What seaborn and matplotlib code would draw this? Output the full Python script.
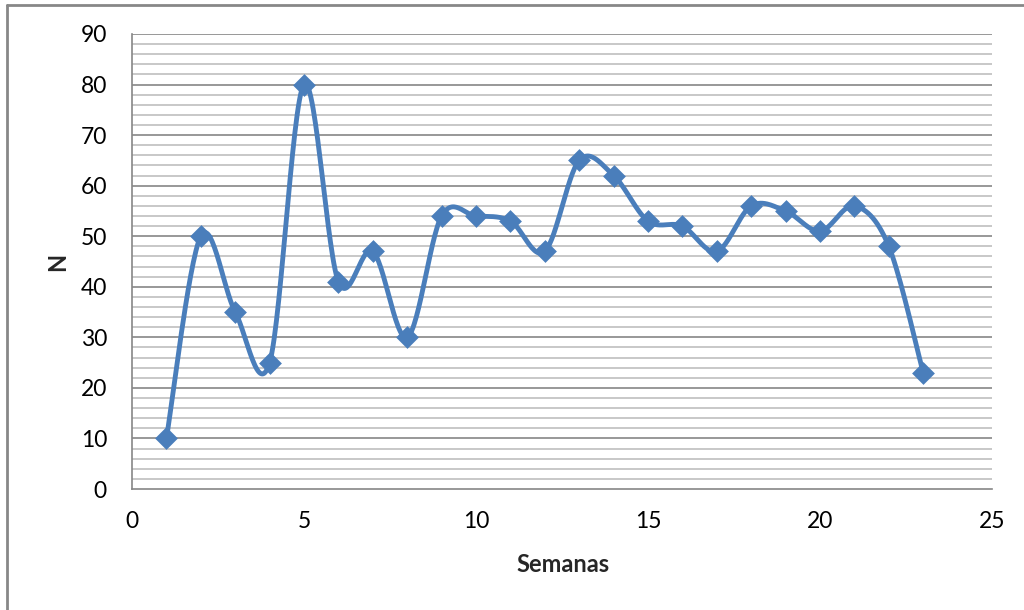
import numpy as np
import matplotlib
matplotlib.use("Agg")
import matplotlib.pyplot as plt
import seaborn as sns
import pandas as pd

# Weekly counts
semanas = list(range(1, 24))
valores = [10, 50, 35, 25, 80, 41, 47, 30, 54, 54, 53, 47, 65, 62, 53, 52, 47, 56, 55, 51, 56, 48, 23]

x_ticks = [0, 5, 10, 15, 20, 25]
y_ticks = [0, 10, 20, 30, 40, 50, 60, 70, 80, 90]

LINE_COLOR = "#4A7EBB"
MAJOR_GRID = "#868686"
MINOR_GRID = "#BFBFBF"

sns.set_theme(style="white")
plt.rcParams["font.family"] = ["Lato", "DejaVu Sans"]

df = pd.DataFrame({"Semanas": semanas, "N": valores})


def smooth_curve(xs, ys, steps=30):
    """Catmull-Rom style Bezier smoothing through every point."""
    xs = np.asarray(xs, float)
    ys = np.asarray(ys, float)
    n = len(xs)
    px, py = [], []
    for i in range(n - 1):
        x0, y0 = (xs[i - 1], ys[i - 1]) if i > 0 else (xs[i], ys[i])
        x1, y1 = xs[i], ys[i]
        x2, y2 = xs[i + 1], ys[i + 1]
        x3, y3 = (xs[i + 2], ys[i + 2]) if i + 2 < n else (x2, y2)
        c1x, c1y = x1 + (x2 - x0) / 6, y1 + (y2 - y0) / 6
        c2x, c2y = x2 - (x3 - x1) / 6, y2 - (y3 - y1) / 6
        t = np.linspace(0, 1, steps, endpoint=(i == n - 2))
        b0 = (1 - t) ** 3
        b1 = 3 * (1 - t) ** 2 * t
        b2 = 3 * (1 - t) * t ** 2
        b3 = t ** 3
        px.append(b0 * x1 + b1 * c1x + b2 * c2x + b3 * x2)
        py.append(b0 * y1 + b1 * c1y + b2 * c2y + b3 * y2)
    return np.concatenate(px), np.concatenate(py)


fig = plt.figure(figsize=(10.24, 6.10), dpi=100)
ax = fig.add_axes([132 / 1024, 1 - 489 / 610, (992 - 132) / 1024, (489 - 34) / 610])

sx, sy = smooth_curve(df["Semanas"], df["N"])
ax.plot(sx, sy, color=LINE_COLOR, lw=3.5, solid_capstyle="round", solid_joinstyle="round", zorder=3)
sns.scatterplot(data=df, x="Semanas", y="N", marker="D", s=135, color=LINE_COLOR,
                edgecolor=LINE_COLOR, linewidth=0, ax=ax, zorder=4)

ax.set_xlim(0, 25)
ax.set_ylim(0, 90)
ax.set_xticks(x_ticks)
ax.set_yticks(y_ticks)

ax.grid(False)
for v in np.arange(2, 91, 2):
    ax.axhline(v, color=MAJOR_GRID if v % 10 == 0 else MINOR_GRID, lw=1.2, zorder=1)

for side in ["top", "right"]:
    ax.spines[side].set_visible(False)
for side in ["left", "bottom"]:
    ax.spines[side].set_color(MAJOR_GRID)
    ax.spines[side].set_linewidth(1.2)

ax.tick_params(axis="both", which="major", direction="out", length=6, width=1.2,
               color=MAJOR_GRID, labelsize=16.5, labelcolor="black")
ax.tick_params(axis="y", pad=12)
ax.tick_params(axis="x", pad=10)

ax.set_xlabel("Semanas", fontsize=17, fontweight="bold")
ax.set_ylabel("N", fontsize=17, fontweight="bold")
ax.xaxis.label.set_va("center")
ax.yaxis.label.set_va("center")
ax.xaxis.set_label_coords((563 - 132) / 860, (489 - 565) / 455)
ax.yaxis.set_label_coords((58 - 132) / 860, (489 - 262) / 455)

# Chart-area border (top and left edges visible)
fig.add_artist(plt.Line2D([7 / 1024, 7 / 1024], [0, 1 - 5 / 610], transform=fig.transFigure,
                          color="#878787", lw=2))
fig.add_artist(plt.Line2D([7 / 1024, 1], [1 - 5 / 610, 1 - 5 / 610], transform=fig.transFigure,
                          color="#878787", lw=2))

fig.savefig("out.png", dpi=100)
